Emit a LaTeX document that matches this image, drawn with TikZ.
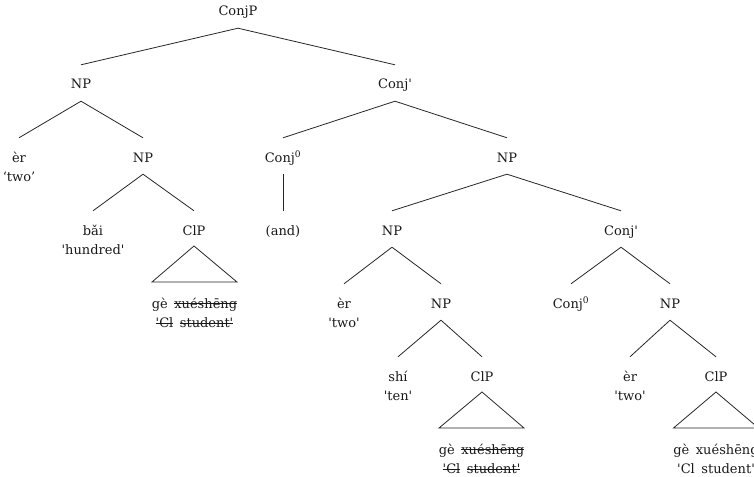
\documentclass[tikz,border=0pt]{standalone}
\usepackage{fontspec}
\usepackage{tikz}
\usetikzlibrary{positioning}
\newfontfamily\treefont{DejaVu Serif}
\newsavebox\strkbox
\newcommand\strk[1]{\sbox\strkbox{#1}\rlap{\usebox\strkbox}\rule[0.3em]{\wd\strkbox}{0.7pt}}

\begin{document}
\begin{tikzpicture}[x=1pt,y=1pt,
          every node/.style={font=\treefont\fontsize{13}{15}\selectfont,
                             text=black!90, anchor=base,
                             inner xsep=1pt, inner ysep=0pt,
                             text height=10pt, text depth=3pt},
          br/.style={line width=0.8pt, draw=black!85}]
        \useasboundingbox (0,0) rectangle (754,-476);
        % labels, level by level
        \node (conjp) at (238,-16) {ConjP};
        \node (np1)   at (81,-89)  {NP};
        \node (cbar1) at (395,-89) {Conj'};
        \node (er1)   at (19,-162) {èr};
        \node[below=6pt of er1] (er1g) {‘two’};
        \node (np2)   at (143,-162) {NP};
        \node (conj1) at (283,-162) {Conj\textsuperscript{0}};
        \node (np3)   at (507,-162) {NP};
        \node (bai)   at (93,-235)  {bǎi};
        \node[below=6pt of bai] (baig) {'hundred'};
        \node (clp1)  at (194,-235) {ClP};
        \node (and)   at (283,-235) {(and)};
        \node (np4)   at (392,-235) {NP};
        \node (cbar2) at (621,-235) {Conj'};
        \node (cl1)   at (194.5,-308) {gè\enspace\strk{xuéshēng}};
        \node[below=6pt of cl1] (cl1g) {\strk{'Cl}\enspace\strk{student'}};
        \node (er2)   at (344,-308) {èr};
        \node[below=6pt of er2] (er2g) {'two'};
        \node (np5)   at (441,-308) {NP};
        \node (conj2) at (571,-308) {Conj\textsuperscript{0}};
        \node (np6)   at (670,-308) {NP};
        \node (shi)   at (398,-381) {shí};
        \node[below=6pt of shi] (shig) {'ten'};
        \node (clp2)  at (482,-381) {ClP};
        \node (er3)   at (630,-381) {èr};
        \node[below=6pt of er3] (er3g) {'two'};
        \node (clp3)  at (716,-381) {ClP};
        \node (cl2)   at (481.5,-454) {gè\enspace\strk{xuéshēng}};
        \node[below=6pt of cl2] (cl2g) {\strk{'Cl}\enspace\strk{student'}};
        \node (cl3)   at (716,-454) {gè\enspace xuéshēng};
        \node[below=6pt of cl3] (cl3g) {'Cl\enspace student'};
        % branches
        \draw[br] ([yshift=-9pt]conjp.south) -- ([yshift=14pt]np1.north);
        \draw[br] ([yshift=-9pt]conjp.south) -- ([yshift=14pt]cbar1.north);
        \draw[br] ([yshift=-9pt]np1.south) -- ([yshift=14pt]er1.north);
        \draw[br] ([yshift=-9pt]np1.south) -- ([yshift=14pt]np2.north);
        \draw[br] ([yshift=-9pt]cbar1.south) -- ([yshift=14pt]conj1.north);
        \draw[br] ([yshift=-9pt]cbar1.south) -- ([yshift=14pt]np3.north);
        \draw[br] ([yshift=-9pt]np2.south) -- ([yshift=14pt]bai.north);
        \draw[br] ([yshift=-9pt]np2.south) -- ([yshift=14pt]clp1.north);
        \draw[br] ([yshift=-9pt]conj1.south) -- ([yshift=14pt]and.north);
        \draw[br] ([yshift=-9pt]np3.south) -- ([yshift=14pt]np4.north);
        \draw[br] ([yshift=-9pt]np3.south) -- ([yshift=14pt]cbar2.north);
        \draw[br] ([yshift=-9pt]np4.south) -- ([yshift=14pt]er2.north);
        \draw[br] ([yshift=-9pt]np4.south) -- ([yshift=14pt]np5.north);
        \draw[br] ([yshift=-9pt]cbar2.south) -- ([yshift=14pt]conj2.north);
        \draw[br] ([yshift=-9pt]cbar2.south) -- ([yshift=14pt]np6.north);
        \draw[br] ([yshift=-9pt]np5.south) -- ([yshift=14pt]shi.north);
        \draw[br] ([yshift=-9pt]np5.south) -- ([yshift=14pt]clp2.north);
        \draw[br] ([yshift=-9pt]np6.south) -- ([yshift=14pt]er3.north);
        \draw[br] ([yshift=-9pt]np6.south) -- ([yshift=14pt]clp3.north);
        % triangles over the ClP material
        \draw[br] ([yshift=-11pt]clp1.base) -- ([xshift=-42.5pt,yshift=26pt]cl1.base)
                  -- ([xshift=42.5pt,yshift=26pt]cl1.base) -- cycle;
        \draw[br] ([yshift=-11pt]clp2.base) -- ([xshift=-42.5pt,yshift=26pt]cl2.base)
                  -- ([xshift=42.5pt,yshift=26pt]cl2.base) -- cycle;
        \draw[br] ([yshift=-11pt]clp3.base) -- ([xshift=-42.5pt,yshift=26pt]cl3.base)
                  -- ([xshift=42.5pt,yshift=26pt]cl3.base) -- cycle;
      \end{tikzpicture}
\end{document}
